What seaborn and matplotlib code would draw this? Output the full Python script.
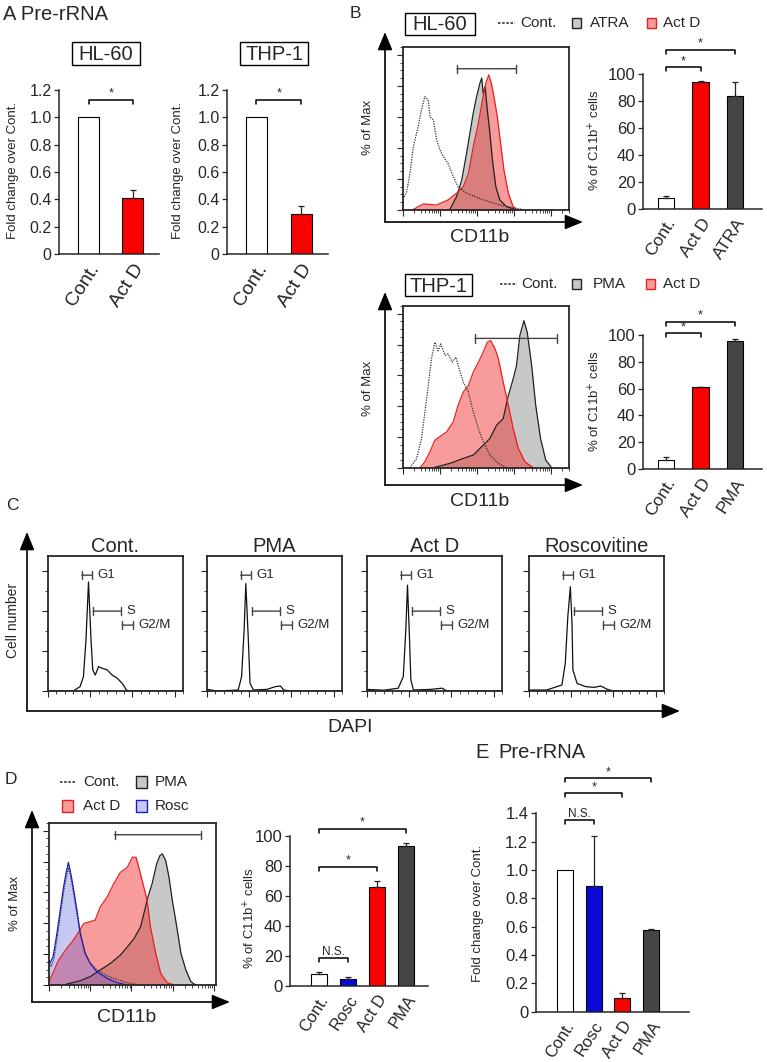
import numpy as np
import pandas as pd
import seaborn as sns
import matplotlib.pyplot as plt
from matplotlib.patches import Rectangle
from matplotlib.ticker import FixedLocator, MultipleLocator, FuncFormatter

# A - pre-rRNA fold change
a_groups = ['Cont.', 'Act D']
a_hl60 = [1.0, 0.41]
a_hl60_err = [0.0, 0.055]
a_thp1 = [1.0, 0.29]
a_thp1_err = [0.0, 0.06]
a_sig = [(0, 1, 1.13, '*')]

# B - CD11b histograms (x in decades, y in % of max)
hl60_cont_x = [0.03, 0.10, 0.19, 0.28, 0.41, 0.50, 0.59, 0.68, 0.73, 0.82, 0.91, 1.00, 1.09, 1.22, 1.36, 1.49, 1.72, 2.17, 2.62, 3.07, 3.30]
hl60_cont_y = [8.4, 11.8, 23.9, 40.8, 53.7, 64.5, 73, 71, 60, 58, 45, 38.7, 34.4, 30, 21.5, 15, 10.8, 6.5, 3.2, 1.1, 0]
hl60_atra_x = [1.20, 1.27, 1.45, 1.59, 1.72, 1.81, 1.90, 1.99, 2.08, 2.13, 2.17, 2.22, 2.28, 2.35, 2.42, 2.51, 2.62, 2.80, 3.03, 3.10]
hl60_atra_y = [0, 0.4, 8.6, 19.4, 36.6, 49.5, 62.4, 73, 81.7, 85, 75, 79.5, 64.5, 49.5, 32, 15, 6.5, 2.1, 0.4, 0]
hl60_actd_x = [0.25, 0.28, 0.55, 0.91, 1.22, 1.45, 1.63, 1.77, 1.90, 2.04, 2.15, 2.24, 2.32, 2.39, 2.46, 2.55, 2.64, 2.73, 2.85, 2.98, 3.07, 3.12]
hl60_actd_y = [0, 0.4, 3.9, 3.2, 6.5, 10.8, 15, 23.7, 40.8, 56, 71, 81.7, 87, 81.7, 73, 60, 43, 25.8, 10.8, 2.1, 0.4, 0]
hl60_gate = [1.46, 3.05, 91]

thp1_cont_x = [0.19, 0.37, 0.50, 0.64, 0.77, 0.86, 0.95, 1.02, 1.14, 1.22, 1.33, 1.43, 1.52, 1.63, 1.77, 1.90, 2.04, 2.17, 2.35, 2.58, 2.80]
thp1_cont_y = [0.2, 6.2, 19, 45, 70.8, 81.5, 76, 80.4, 73, 74, 68.6, 71.8, 64.3, 55.7, 49.2, 36.3, 25.6, 17, 8.4, 3, 0.2]
thp1_actd_x = [0.46, 0.59, 0.73, 0.86, 1.05, 1.18, 1.36, 1.49, 1.63, 1.77, 1.90, 2.04, 2.17, 2.28, 2.37, 2.49, 2.58, 2.71, 2.85, 2.98, 3.12, 3.30, 3.52]
thp1_actd_y = [0.2, 4, 10.5, 18, 21.3, 23.4, 29.9, 40.6, 49.2, 53.5, 62, 68.6, 75, 81.5, 82.6, 77.2, 70.8, 55.7, 40.6, 25.6, 12.7, 4, 0.2]
thp1_pma_x = [0.82, 1.27, 1.63, 1.90, 2.17, 2.35, 2.53, 2.71, 2.85, 2.98, 3.07, 3.16, 3.27, 3.36, 3.48, 3.59, 3.72, 3.86, 4.02]
thp1_pma_y = [0.2, 3, 6.2, 8.4, 14.8, 19.1, 27.7, 32, 47, 57.8, 66.4, 85.8, 95.5, 88, 66.4, 40.6, 19.1, 5.2, 0.2]
thp1_gate = [1.95, 4.16, 84]

b_hl60_groups = ['Cont.', 'Act D', 'ATRA']
b_hl60_pos = [8.0, 94.3, 83.7]
b_hl60_err = [1.5, 0.5, 10.6]
b_hl60_sig = [(0, 1, 105, '*'), (0, 2, 118, '*')]
b_thp1_groups = ['Cont.', 'Act D', 'PMA']
b_thp1_pos = [6.5, 61.0, 95.5]
b_thp1_err = [2.5, 0.5, 1.5]
b_thp1_sig = [(0, 1, 101.3, '*'), (0, 2, 110, '*')]

# C - cell cycle (DAPI)
cc_titles = ['Cont.', 'PMA', 'Act D', 'Roscovitine']
cc_cont_x = [0, 30, 38, 42, 45, 48, 51, 53, 56, 60, 64, 70, 76, 82, 88, 93, 96, 160]
cc_cont_y = [0, 0, 11, 36, 128, 273, 128, 53, 40, 61, 57, 53, 40, 32, 19, 2.5, 0, 0]
cc_pma_x = [0, 12, 37, 41, 44, 46, 49, 51, 55, 71, 81, 87, 91, 99, 160]
cc_pma_y = [4, 0, 2.5, 36, 153, 269, 128, 19, 2.5, 4, 11, 12.5, 2.5, 0, 0]
cc_actd_x = [0, 20, 37, 43, 46, 48, 50, 52, 55, 75, 89, 95, 160]
cc_actd_y = [4, 2, 7, 36, 153, 265, 153, 28, 2.5, 4, 7, 0, 0]
cc_rosc_x = [0, 1, 21, 39, 43, 46, 49, 51, 52, 57, 67, 77, 85, 93, 100, 160]
cc_rosc_y = [3, 2.5, 2.5, 15, 69, 186, 261, 169, 53, 19, 11, 9, 12.5, 4, 0, 0]
gate_names = ['G1', 'S', 'G2/M']
gate_lo = [40, 53.5, 88]
gate_hi = [52.5, 87, 101]
gate_y = [290, 200, 165]

# D - HL-60 with roscovitine
d_rosc_x = [0.0, 0.02, 0.10, 0.19, 0.27, 0.35, 0.41, 0.47, 0.53, 0.59, 0.68, 0.76, 0.88, 1.00, 1.16, 1.41, 1.65, 1.90]
d_rosc_y = [16, 14, 18.3, 33, 48, 63, 72, 79.5, 72, 63, 48, 33, 20.4, 14, 8.6, 4.3, 1.5, 0]
d_cont_x = [0.0, 0.05, 0.12, 0.20, 0.28, 0.36, 0.42, 0.47, 0.52, 0.58, 0.66, 0.75, 0.86, 0.98, 1.15, 1.40, 1.65, 1.90, 2.06, 2.20]
d_cont_y = [14, 12, 17, 31, 46, 61, 70, 76, 71, 62, 49, 35, 22, 15, 10, 6, 3.5, 1.5, 0.6, 0]
d_actd_x = [0.0, 0.02, 0.23, 0.43, 0.59, 0.72, 0.84, 0.96, 1.12, 1.24, 1.41, 1.57, 1.73, 1.90, 2.02, 2.11, 2.20, 2.30, 2.38, 2.46, 2.59, 2.71, 2.87, 3.03]
d_actd_y = [2, 3.2, 16, 23.7, 29, 34.4, 39.8, 40.8, 42, 50.5, 57, 65.6, 73, 76.3, 82.8, 82.8, 74, 63.4, 54.8, 37.6, 20.4, 7.5, 1.5, 0]
d_pma_x = [0.43, 0.76, 1.00, 1.24, 1.49, 1.73, 1.90, 2.06, 2.22, 2.32, 2.40, 2.50, 2.61, 2.69, 2.75, 2.83, 2.91, 2.99, 3.10, 3.20, 3.32, 3.44, 3.56]
d_pma_y = [0.6, 2.8, 5.4, 9.7, 14, 19.4, 24.7, 30, 37.6, 48.4, 57, 65.6, 78.5, 83.9, 85, 80.6, 69.9, 54.8, 37.6, 20.4, 9.7, 2.2, 0]
d_gate = [1.59, 3.68, 97.4]

d_groups = ['Cont.', 'Rosc', 'Act D', 'PMA']
d_pos = [7.6, 4.3, 65.7, 93.3]
d_err = [1.8, 1.7, 4.4, 1.8]
d_sig = [(0, 1, 18.5, 'N.S.'), (0, 2, 79.5, '*'), (0, 3, 105, '*')]

# E - pre-rRNA with roscovitine
e_groups = ['Cont.', 'Rosc', 'Act D', 'PMA']
e_fold = [1.0, 0.89, 0.10, 0.577]
e_err = [0.0, 0.35, 0.03, 0.005]
e_sig = [(0, 1, 1.353, 'N.S.'), (0, 2, 1.544, '*'), (0, 3, 1.65, '*')]

RED = '#ff0000'
DGRAY = '#454545'
BLUE = '#0a0ad6'

sns.set_style('ticks')
plt.rcParams['font.family'] = ['Liberation Sans', 'DejaVu Sans']

W, H = 767, 1062
fig = plt.figure(figsize=(W / 100, H / 100), dpi=100)


def px_axes(x0, y0, x1, y1):
    ax = fig.add_axes([x0 / W, 1 - y1 / H, (x1 - x0) / W, (y1 - y0) / H])
    ax.set_facecolor('none')
    return ax


def one_dec(v, p):
    return '0' if abs(v) < 1e-9 else f'{v:.1f}'


def bar_panel(ax, groups, vals, errs, colors, width, xlim, ymax, ystep, sig, drop,
              tick_fs=12, lab_fs=13, fmt=None):
    sns.barplot(x=groups, y=vals, hue=groups, palette=colors, width=width, saturation=1,
                edgecolor='black', linewidth=0.8, errorbar=None, legend=False, ax=ax)
    idx = [i for i, e in enumerate(errs) if e > 0]
    ax.errorbar(idx, [vals[i] for i in idx], yerr=[[0] * len(idx), [errs[i] for i in idx]],
                fmt='none', ecolor='#222222', elinewidth=0.9, capsize=2.5, capthick=0.9)
    ax.set_xlim(*xlim)
    ax.set_ylim(0, ymax)
    ax.yaxis.set_major_locator(MultipleLocator(ystep))
    if fmt:
        ax.yaxis.set_major_formatter(FuncFormatter(fmt))
    ax.set_xticks(range(len(groups)))
    ax.set_xticklabels(groups, rotation=57, ha='right', rotation_mode='anchor', fontsize=lab_fs)
    ax.tick_params(axis='y', labelsize=tick_fs, length=3.5, width=0.9, direction='out', pad=2)
    ax.tick_params(axis='x', length=0, pad=5)
    ax.set_xlabel('')
    ax.set_ylabel('')
    sns.despine(ax=ax)
    for s in ('left', 'bottom'):
        ax.spines[s].set_linewidth(1.1)
    for i, j, y, t in sig:
        ax.plot([i, i, j, j], [y - drop, y, y, y - drop], color='black', lw=1.1, clip_on=False)
        ax.annotate(t, xy=((i + j) / 2, y), xytext=(0, 2), textcoords='offset points',
                    ha='center', va='baseline', fontsize=9 if t == '*' else 8.5,
                    annotation_clip=False)


def flow_frame(ax, xmax, gate):
    ax.set_xlim(0, xmax)
    ax.set_ylim(0, 105)
    major = list(range(int(xmax) + 1))
    minor = [d + np.log10(k) for d in major for k in range(2, 10) if d + np.log10(k) < xmax]
    ax.xaxis.set_major_locator(FixedLocator(major))
    ax.xaxis.set_minor_locator(FixedLocator(minor))
    ax.yaxis.set_major_locator(MultipleLocator(20))
    ax.yaxis.set_minor_locator(MultipleLocator(5))
    ax.tick_params(which='both', direction='out', labelleft=False, labelbottom=False)
    ax.tick_params(which='major', length=4, width=0.8)
    ax.tick_params(which='minor', length=2, width=0.6)
    for s in ax.spines.values():
        s.set_linewidth(1.3)
    ax.annotate('', xy=(gate[0], gate[2]), xytext=(gate[1], gate[2]),
                arrowprops=dict(arrowstyle='|-|,widthA=0.3,widthB=0.3', color='#444444',
                                lw=1.0, shrinkA=0, shrinkB=0))


def fill(ax, x, y, face, alpha):
    ax.fill_between(x, y, 0, color=face, alpha=alpha, lw=0)


def outline(ax, x, y, color, ls='-', lw=0.9):
    sns.lineplot(x=x, y=y, ax=ax, color=color, linestyle=ls, lw=lw, estimator=None, sort=False)


# overlay for labels, arrows, legend keys
ov = fig.add_axes([0, 0, 1, 1], zorder=10)
ov.set_xlim(0, W)
ov.set_ylim(H, 0)
ov.axis('off')


def txt(x, y, s, fs, ha='left', rot=0):
    ov.text(x, y, s, fontsize=fs, ha=ha, va='center', rotation=rot)


def arrow(x0, y0, x1, y1):
    ov.annotate('', xy=(x1, y1), xytext=(x0, y0),
                arrowprops=dict(arrowstyle='-|>,head_length=1.1,head_width=0.45', color='black',
                                lw=1.2, shrinkA=0, shrinkB=0, mutation_scale=10))


def title_box(x0, y0, x1, y1, s):
    ov.add_patch(Rectangle((x0, y0), x1 - x0, y1 - y0, fc='white', ec='black', lw=1.0))
    txt((x0 + x1) / 2, (y0 + y1) / 2 + 1, s, 14.5, ha='center')


def key_box(x0, y0, w, h, fc, ec):
    ov.add_patch(Rectangle((x0, y0), w, h, fc=fc, ec=ec, lw=1.0))


def key_dash(x0, x1, y):
    ov.plot([x0, x1], [y, y], color='#333333', lw=1.2, ls=(0, (1.5, 1)))


# ---------- A
txt(3, 14, 'A Pre-rRNA', 14.5)
title_box(72, 42, 140, 65, 'HL-60')
title_box(240, 42, 308, 65, 'THP-1')
ax = px_axes(59.3, 90, 159.3, 254)
bar_panel(ax, a_groups, a_hl60, a_hl60_err, ['white', RED], 0.475, (-0.667, 1.595), 1.2, 0.2,
          a_sig, 0.03, tick_fs=11.5, lab_fs=14, fmt=one_dec)
ax = px_axes(227.3, 90, 328.3, 254)
bar_panel(ax, a_groups, a_thp1, a_thp1_err, ['white', RED], 0.475, (-0.646, 1.6), 1.2, 0.2,
          a_sig, 0.03, tick_fs=11.5, lab_fs=14, fmt=one_dec)
txt(13, 170, 'Fold change over Cont.', 9.5, ha='center', rot=90)
txt(178, 170, 'Fold change over Cont.', 9.5, ha='center', rot=90)

# ---------- B
txt(350, 13, 'B', 12.5)
title_box(405, 13, 475, 35, 'HL-60')
key_dash(498, 515, 23)
txt(520, 23, 'Cont.', 11)
key_box(572, 18, 9, 10, '#c8c8c8', '#222222')
txt(590, 23, 'ATRA', 11)
key_box(647, 18, 9, 10, '#f79b9b', '#e82020')
txt(663, 23, 'Act D', 11)

ax = px_axes(403, 47, 569, 210)
fill(ax, hl60_atra_x, hl60_atra_y, '#c8c8c8', 1.0)
fill(ax, hl60_actd_x, hl60_actd_y, '#ee2222', 0.45)
outline(ax, hl60_atra_x, hl60_atra_y, '#222222')
outline(ax, hl60_actd_x, hl60_actd_y, '#e82020')
outline(ax, hl60_cont_x, hl60_cont_y, '#333333', ls=(0, (1, 1)))
flow_frame(ax, 4.49, hl60_gate)
arrow(385, 222, 385, 32)
arrow(385, 222, 583, 222)
txt(368, 127, '% of Max', 9.5, ha='center', rot=90)
txt(480, 238, 'CD11b', 14, ha='center')

ax = px_axes(643, 74, 762, 209)
bar_panel(ax, b_hl60_groups, b_hl60_pos, b_hl60_err, ['white', RED, DGRAY], 0.47,
          (-0.67, 2.78), 100, 20, b_hl60_sig, 3, lab_fs=12.5)
txt(595, 140, '% of C11b$^{+}$ cells', 9.5, ha='center', rot=90)

title_box(405, 274, 472, 296, 'THP-1')
key_dash(500, 517, 284)
txt(521, 284, 'Cont.', 11)
key_box(572, 279, 9, 10, '#c8c8c8', '#222222')
txt(593, 284, 'PMA', 11)
key_box(646, 279, 9, 10, '#f79b9b', '#e82020')
txt(663, 284, 'Act D', 11)

ax = px_axes(403, 306, 569, 468)
fill(ax, thp1_pma_x, thp1_pma_y, '#c8c8c8', 1.0)
fill(ax, thp1_actd_x, thp1_actd_y, '#ee2222', 0.45)
outline(ax, thp1_pma_x, thp1_pma_y, '#222222')
outline(ax, thp1_actd_x, thp1_actd_y, '#e82020')
outline(ax, thp1_cont_x, thp1_cont_y, '#333333', ls=(0, (1, 1)))
flow_frame(ax, 4.49, thp1_gate)
arrow(385, 485, 385, 292)
arrow(385, 485, 583, 485)
txt(368, 388, '% of Max', 9.5, ha='center', rot=90)
txt(480, 501, 'CD11b', 14, ha='center')

ax = px_axes(643, 335, 762, 469)
bar_panel(ax, b_thp1_groups, b_thp1_pos, b_thp1_err, ['white', RED, DGRAY], 0.47,
          (-0.67, 2.78), 100, 20, b_thp1_sig, 3, lab_fs=12.5)
txt(595, 401, '% of C11b$^{+}$ cells', 9.5, ha='center', rot=90)

# ---------- C
txt(6, 505, 'C', 12.5)
cc_x = [cc_cont_x, cc_pma_x, cc_actd_x, cc_rosc_x]
cc_y = [cc_cont_y, cc_pma_y, cc_actd_y, cc_rosc_y]
cc_left = [48, 207, 367, 529]
for k in range(4):
    ax = px_axes(cc_left[k], 556, cc_left[k] + 135, 691)
    outline(ax, cc_x[k], cc_y[k], '#111111', lw=0.9)
    ax.set_xlim(0, 160)
    ax.set_ylim(0, 338)
    ax.xaxis.set_major_locator(MultipleLocator(50))
    ax.xaxis.set_minor_locator(MultipleLocator(10))
    ax.yaxis.set_major_locator(MultipleLocator(100))
    ax.yaxis.set_minor_locator(MultipleLocator(50))
    ax.tick_params(which='both', direction='out', labelleft=False, labelbottom=False)
    ax.tick_params(which='major', length=4, width=0.8)
    ax.tick_params(which='minor', length=2, width=0.6)
    for s in ax.spines.values():
        s.set_linewidth(1.3)
    ax.set_title(cc_titles[k], fontsize=14.5, pad=3)
    for g in range(3):
        ax.annotate('', xy=(gate_lo[g], gate_y[g]), xytext=(gate_hi[g], gate_y[g]),
                    arrowprops=dict(arrowstyle='|-|,widthA=0.3,widthB=0.3', color='#444444',
                                    lw=1.0, shrinkA=0, shrinkB=0))
        ax.text(gate_hi[g] + 6, gate_y[g], gate_names[g], fontsize=9.5, va='center')
arrow(27, 711, 27, 532)
arrow(27, 711, 680, 711)
txt(13, 620, 'Cell number', 10, ha='center', rot=90)
txt(350, 728, 'DAPI', 14, ha='center')

# ---------- D
txt(5, 780, 'D', 12.5)
key_dash(60, 75, 782)
txt(83, 782, 'Cont.', 11)
key_box(136, 776, 11, 12, '#c8c8c8', '#222222')
txt(155, 782, 'PMA', 11)
key_box(62, 800, 11, 12, '#f79b9b', '#e82020')
txt(83, 806, 'Act D', 11)
key_box(136, 800, 11, 12, '#c7c7f4', '#1a1ad0')
txt(155, 806, 'Rosc', 11)

ax = px_axes(49, 823, 216, 985)
fill(ax, d_pma_x, d_pma_y, '#c8c8c8', 1.0)
fill(ax, d_actd_x, d_actd_y, '#ee2222', 0.45)
fill(ax, d_rosc_x, d_rosc_y, '#6060e0', 0.35)
outline(ax, d_pma_x, d_pma_y, '#222222')
outline(ax, d_actd_x, d_actd_y, '#e82020')
outline(ax, d_rosc_x, d_rosc_y, '#1a1ad0')
outline(ax, d_cont_x, d_cont_y, '#333333', ls=(0, (1, 1)))
flow_frame(ax, 4.05, d_gate)
arrow(32, 1002, 32, 810)
arrow(32, 1002, 230, 1002)
txt(15, 903, '% of Max', 9.5, ha='center', rot=90)
txt(127, 1018, 'CD11b', 14, ha='center')

ax = px_axes(290, 836, 428, 985.7)
bar_panel(ax, d_groups, d_pos, d_err, ['white', BLUE, RED, DGRAY], 0.55,
          (-1.0, 3.76), 100, 20, d_sig, 2.7, lab_fs=12)
txt(250, 918, '% of C11b$^{+}$ cells', 9.5, ha='center', rot=90)

# ---------- E
txt(475, 752, 'E', 14.5)
txt(498, 752, 'Pre-rRNA', 14.5)
ax = px_axes(536, 813.3, 689, 1011.7)
bar_panel(ax, e_groups, e_fold, e_err, ['white', BLUE, RED, DGRAY], 0.56,
          (-1.01, 4.32), 1.4, 0.2, e_sig, 0.028, lab_fs=12, fmt=one_dec)
txt(478, 913, 'Fold change over Cont.', 9.5, ha='center', rot=90)

fig.savefig('out.png', dpi=100)
